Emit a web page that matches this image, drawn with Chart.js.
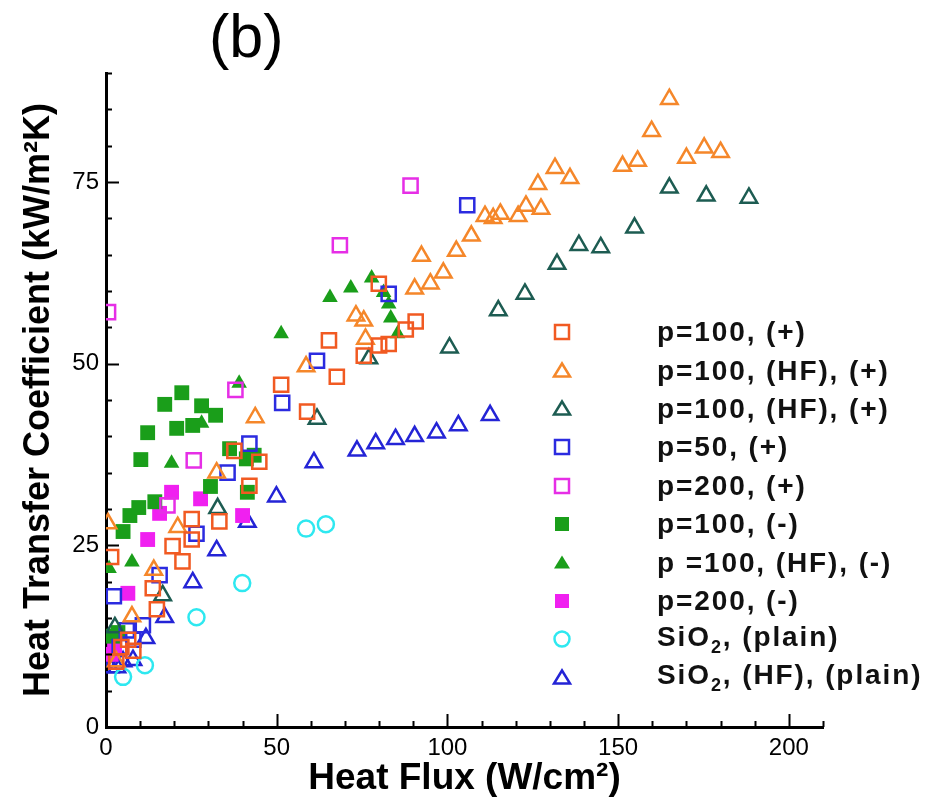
<!DOCTYPE html>
<html lang="en">
<head>
<meta charset="UTF-8">
<title>Heat Transfer Coefficient vs Heat Flux</title>
<script src="https://cdn.jsdelivr.net/npm/chart.js"></script>
<style>
  body { margin: 0; background: #fff; font-family: "Liberation Sans", Arial, sans-serif; }
  #wrap { position: relative; width: 929px; height: 802px; }
  #panel { position: absolute; left: 209px; top: 1px; font-size: 61px; color: #000; }
  #legend { position: absolute; left: 548px; top: 313px; list-style: none; margin: 0; padding: 0;
            font-weight: bold; font-size: 28px; letter-spacing: 1.9px; color: #111; }
  #legend li { height: 38.4px; display: flex; align-items: center; white-space: nowrap; }
  #legend svg { width: 28px; height: 28px; margin-right: 81px; flex: none; }
  #legend sub { font-size: 18px; }
</style>
</head>
<body>
<div id="wrap">
  <canvas id="htc" width="929" height="802"></canvas>
  <div id="panel">(b)</div>
  <ul id="legend"></ul>
</div>
<script>
// axis ticks
const xTicks = [0, 50, 100, 150, 200];
const yTicks = [0, 25, 50, 75];

// series, [heat flux, htc]
const p100plus = [[1.5,23.4],[3,9],[4.5,11],[6.5,12],[8,10.5],[13.7,19.1],[14.9,16.2],[19.5,24.9],[22.4,22.8],
  [25.1,28.6],[25.1,25.8],[33.2,28.3],[37.6,38],[42,33.2],[44.9,36.5],[51.3,47.1],[58.9,43.4],[65.3,53.2],
  [67.6,48.2],[75.5,51.1],[80,52.5],[82.8,52.7],[87.8,54.7],[90.7,55.8],[79.9,61]];
const p100hfPlus = [[0.6,28],[3,9],[7.6,15.2],[14,21.6],[21,27.5],[32.4,35],[43.7,42.6],[58.6,49.6],[73.2,56.6],
  [75.5,55.9],[76,53.4],[90.4,60.3],[92.4,64.8],[95,61],[98.8,62.5],[102.6,65.5],[107,67.6],[111,70.3],
  [113.4,70],[115.5,70.6],[120.7,70.3],[123,71.7],[127.4,71.3],[126.5,74.7],[131.5,76.9],[135.9,75.5],
  [151.3,77.2],[155.7,77.9],[159.8,82],[165,86.4],[170,78.3],[175.2,79.7],[180,79.1]];
const p100hfPlus2 = [[2.6,13.7],[16.6,18.1],[32.7,30.1],[61.8,42.4],[77,50.7],[100.6,52.2],[114.9,57.3],
  [122.7,59.6],[132.1,63.7],[138.5,66.3],[144.9,66],[154.8,68.7],[165,74.2],[175.8,73.1],[188.3,72.8]];
const p50plus = [[2.3,18],[4,11],[6.1,13.3],[8,12],[10.8,14],[15.7,20.9],[26.5,26.6],[35.6,35],[42,39],
  [51.6,44.6],[61.8,50.4],[82.8,59.6],[105.8,71.8]];
const p200plus = [[0.6,57.1],[18,30.5],[25.7,36.7],[37.9,46.4],[68.5,66.3],[89.2,74.5]];
const p100minus = [[2,12.5],[3.5,13],[5,26.9],[7,29.1],[9.6,30.2],[10.2,36.8],[12.2,40.5],[14.3,31],[17.2,44.4],
  [20.7,41.1],[22.2,46],[25.4,41.5],[28,44.2],[30.6,33.1],[32.1,42.9],[36.2,38.3],[41.1,36.9],[41.4,32.3],[43.4,37.4]];
const p100hfMinus = [[0.9,21.8],[7.6,22.7],[19.2,36.3],[28,41.8],[39,47.3],[51.3,54.1],[65.6,59.1],[71.7,60.4],
  [77.8,61.8],[81.3,59.8],[82.8,58.2],[83.4,56.3],[85.4,54.1]];
const p200minus = [[1.5,10],[2.5,11],[6.4,18.4],[12.2,25.8],[15.7,29.4],[19.2,32.3],[27.7,31.4],[40,29.1]];
const sio2Plain = [[5,6.9],[11.4,8.5],[26.5,15.1],[39.9,19.8],[58.6,27.3],[64.4,27.9]];
const sio2HfPlain = [[1.2,8.2],[3.2,8.2],[5,9],[7.9,9.2],[11.7,12.2],[17.2,15.1],[25.4,19.9],[32.4,24.3],
  [41.4,28.2],[49.9,31.7],[60.9,36.4],[73.5,38],[79,39],[84.8,39.6],[90.4,40],[96.8,40.5],[103.2,41.5],[112.5,42.9]];

const series = [
  { label: 'p=100, (+)',          data: p100plus,    color: '#f15a22', style: 'rect',     fill: false },
  { label: 'p=100, (HF), (+)',    data: p100hfPlus,  color: '#f5872a', style: 'triangle', fill: false },
  { label: 'p=100, (HF), (+)',    data: p100hfPlus2, color: '#1d5c52', style: 'triangle', fill: false },
  { label: 'p=50, (+)',           data: p50plus,     color: '#2b2be0', style: 'rect',     fill: false },
  { label: 'p=200, (+)',          data: p200plus,    color: '#e62ee6', style: 'rect',     fill: false },
  { label: 'p=100, (-)',          data: p100minus,   color: '#1a9e1a', style: 'rect',     fill: true },
  { label: 'p =100, (HF), (-)',   data: p100hfMinus, color: '#1a9e1a', style: 'triangle', fill: true },
  { label: 'p=200, (-)',          data: p200minus,   color: '#f020f0', style: 'rect',     fill: true },
  { label: 'SiO<sub>2</sub>, (plain)',        data: sio2Plain,   color: '#2ee8f0', style: 'circle',   fill: false },
  { label: 'SiO<sub>2</sub>, (HF), (plain)',  data: sio2HfPlain, color: '#2424d6', style: 'triangle', fill: false }
];

function radiusFor(s) {
  if (s.style === 'rect') return s.fill ? 10.5 : 10;
  if (s.style === 'circle') return 8;
  return s.fill ? 9 : 9.5;
}

// inward tick marks like the original plot
const axisTicks = {
  id: 'axisTicks',
  afterDraw(chart) {
    const { ctx, chartArea, scales: { x, y } } = chart;
    ctx.save();
    ctx.strokeStyle = '#000';
    ctx.lineWidth = 2;
    ctx.beginPath();
    for (let v = 0; v <= x.max; v += 10) {
      const px = Math.round(x.getPixelForValue(v)) + 0.5;
      const len = xTicks.includes(v) ? 13 : 6;
      ctx.moveTo(px, chartArea.bottom);
      ctx.lineTo(px, chartArea.bottom - len);
    }
    for (let v = 0; v <= y.max; v += 5) {
      const py = Math.round(y.getPixelForValue(v)) + 0.5;
      const len = yTicks.includes(v) ? 13 : 6;
      ctx.moveTo(chartArea.left, py);
      ctx.lineTo(chartArea.left + len, py);
    }
    ctx.stroke();
    ctx.restore();
  }
};

new Chart(document.getElementById('htc'), {
  type: 'scatter',
  data: {
    datasets: series.map(s => ({
      label: s.label,
      data: s.data.map(p => ({ x: p[0], y: p[1] })),
      pointStyle: s.style,
      pointRadius: radiusFor(s),
      borderColor: s.color,
      backgroundColor: s.fill ? s.color : 'rgba(0,0,0,0)',
      borderWidth: s.fill ? 0 : 2.5
    }))
  },
  options: {
    responsive: false,
    animation: false,
    layout: { padding: { top: 73, right: 106, left: 0, bottom: 0 } },
    plugins: { legend: { display: false }, tooltip: { enabled: false } },
    scales: {
      x: {
        type: 'linear', min: 0, max: 210,
        afterFit: s => { s.height = 75; },
        afterBuildTicks: s => { s.ticks = xTicks.map(v => ({ value: v })); },
        grid: { display: false, drawTicks: false },
        border: { display: true, color: '#000', width: 3 },
        ticks: { color: '#000', padding: 7, font: { family: 'Liberation Sans', size: 24 } },
        title: { display: true, text: 'Heat Flux (W/cm²)', color: '#000', padding: { top: 0, bottom: 1 },
                 font: { family: 'Liberation Sans', size: 37, weight: 'bold' } }
      },
      y: {
        type: 'linear', min: 0, max: 90,
        afterFit: s => { s.width = 106; },
        afterBuildTicks: s => { s.ticks = yTicks.map(v => ({ value: v })); },
        grid: { display: false, drawTicks: false },
        border: { display: true, color: '#000', width: 3 },
        ticks: { color: '#000', padding: 7, font: { family: 'Liberation Sans', size: 24 } },
        title: { display: true, text: 'Heat Transfer Coefficient (kW/m²K)', color: '#000', padding: { top: 17, bottom: 0 },
                 font: { family: 'Liberation Sans', size: 36, weight: 'bold' } }
      }
    }
  },
  plugins: [axisTicks]
});

// legend
const legend = document.getElementById('legend');
series.forEach(s => {
  let shape;
  const fill = s.fill ? s.color : 'none';
  const sw = s.fill ? 0 : 2.5;
  if (s.style === 'rect') shape = `<rect x="7" y="7" width="14" height="14" fill="${fill}" stroke="${s.color}" stroke-width="${sw}"/>`;
  else if (s.style === 'circle') shape = `<circle cx="14" cy="14" r="7.5" fill="${fill}" stroke="${s.color}" stroke-width="${sw}"/>`;
  else shape = `<polygon points="14,6.5 22,19.5 6,19.5" fill="${fill}" stroke="${s.color}" stroke-width="${sw}" stroke-linejoin="miter"/>`;
  const li = document.createElement('li');
  li.innerHTML = `<svg viewBox="0 0 28 28">${shape}</svg><span>${s.label}</span>`;
  legend.appendChild(li);
});
</script>
</body>
</html>
